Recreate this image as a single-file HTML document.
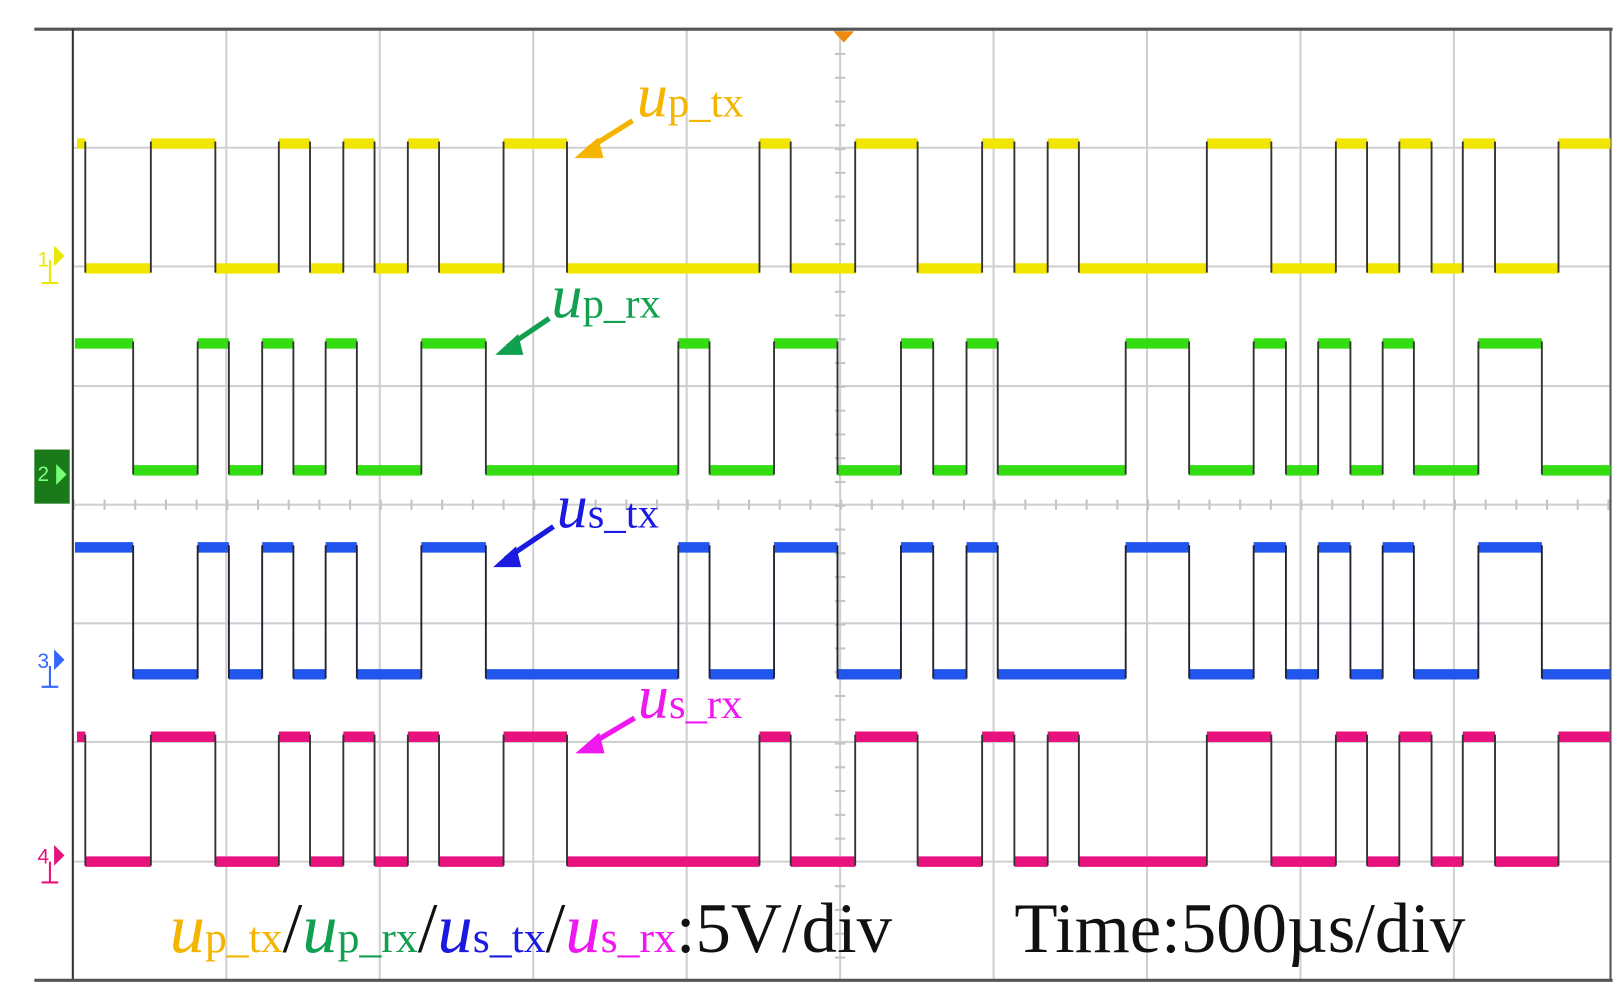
<!DOCTYPE html>
<html><head><meta charset="utf-8"><style>
html,body{margin:0;padding:0;background:#fff;}
svg{display:block;}
</style></head><body>
<svg width="1623" height="999" viewBox="0 0 1560 960" preserveAspectRatio="none" xmlns="http://www.w3.org/2000/svg">
<rect width="1560" height="960" fill="#fff"/>
<g stroke="#d0d0d0" stroke-width="2">
<line x1="217.5" y1="28" x2="217.5" y2="942"/><line x1="365" y1="28" x2="365" y2="942"/><line x1="512.5" y1="28" x2="512.5" y2="942"/><line x1="660" y1="28" x2="660" y2="942"/><line x1="807.5" y1="28" x2="807.5" y2="942"/><line x1="955" y1="28" x2="955" y2="942"/><line x1="1102.5" y1="28" x2="1102.5" y2="942"/><line x1="1250" y1="28" x2="1250" y2="942"/><line x1="1397.5" y1="28" x2="1397.5" y2="942"/>
<line x1="70" y1="142" x2="1548" y2="142"/><line x1="70" y1="256" x2="1548" y2="256"/><line x1="70" y1="371" x2="1548" y2="371"/><line x1="70" y1="485" x2="1548" y2="485"/><line x1="70" y1="599" x2="1548" y2="599"/><line x1="70" y1="713" x2="1548" y2="713"/><line x1="70" y1="828" x2="1548" y2="828"/>
</g>
<line x1="70" y1="485" x2="1548" y2="485" stroke="#c4c4c4" stroke-width="10" stroke-dasharray="2 27.5"/>
<line x1="807.5" y1="28" x2="807.5" y2="942" stroke="#c4c4c4" stroke-width="10" stroke-dasharray="2 20.85"/>
<line x1="33" y1="28" x2="1550" y2="28" stroke="#555" stroke-width="3"/>
<line x1="70" y1="28" x2="70" y2="942" stroke="#333" stroke-width="2"/>
<line x1="33" y1="942" x2="1550" y2="942" stroke="#555" stroke-width="3"/>
<line x1="1548" y1="28" x2="1548" y2="942" stroke="#555" stroke-width="2"/>
<polygon points="801,30 821,30 811,41" fill="#f08a10"/>

<defs>
<path id="wa" d="M74 138H82 M82 258H145 M145 138H207 M207 258H268 M268 138H298 M298 258H330 M330 138H360 M360 258H392 M392 138H422 M422 258H484 M484 138H545 M545 258H730 M730 138H760 M760 258H822 M822 138H882 M882 258H944 M944 138H975 M975 258H1007 M1007 138H1037 M1037 258H1160 M1160 138H1222 M1222 258H1284 M1284 138H1314 M1314 258H1345 M1345 138H1376 M1376 258H1406 M1406 138H1437 M1437 258H1498 M1498 138H1548"/>
<path id="ea" d="M82 136V262M145 136V262M207 136V262M268 136V262M298 136V262M330 136V262M360 136V262M392 136V262M422 136V262M484 136V262M545 136V262M730 136V262M760 136V262M822 136V262M882 136V262M944 136V262M975 136V262M1007 136V262M1037 136V262M1160 136V262M1222 136V262M1284 136V262M1314 136V262M1345 136V262M1376 136V262M1406 136V262M1437 136V262M1498 136V262"/>
<path id="wb" d="M72 330H128 M128 452H190 M190 330H220 M220 452H252 M252 330H282 M282 452H313 M313 330H343 M343 452H405 M405 330H467 M467 452H652 M652 330H682 M682 452H744 M744 330H805 M805 452H866 M866 330H897 M897 452H929 M929 330H959 M959 452H1082 M1082 330H1143 M1143 452H1205 M1205 330H1236 M1236 452H1267 M1267 330H1298 M1298 452H1329 M1329 330H1359 M1359 452H1421 M1421 330H1482 M1482 452H1548"/>
<path id="eb" d="M128 328V456M190 328V456M220 328V456M252 328V456M282 328V456M313 328V456M343 328V456M405 328V456M467 328V456M652 328V456M682 328V456M744 328V456M805 328V456M866 328V456M897 328V456M929 328V456M959 328V456M1082 328V456M1143 328V456M1205 328V456M1236 328V456M1267 328V456M1298 328V456M1329 328V456M1359 328V456M1421 328V456M1482 328V456"/>
</defs>
<g fill="none">
<use href="#wa" stroke="#f0e600" stroke-width="10"/>
<use href="#ea" stroke="#333" stroke-width="1.8"/>
<use href="#wa" stroke="#e8127f" stroke-width="10" transform="translate(0,570)"/>
<use href="#ea" stroke="#333" stroke-width="1.8" transform="translate(0,570)"/>
<use href="#wb" stroke="#33dd11" stroke-width="10"/>
<use href="#eb" stroke="#333" stroke-width="1.8"/>
<use href="#wb" stroke="#2255ee" stroke-width="10" transform="translate(0,196)"/>
<use href="#eb" stroke="#223" stroke-width="1.8" transform="translate(0,196)"/>
</g>

<g font-family="'Liberation Serif',serif">
<text x="612" y="112" font-size="60" fill="#f5b400"><tspan font-style="italic">u</tspan><tspan font-size="41">p_tx</tspan></text>
<text x="530" y="305" font-size="60" fill="#10a050"><tspan font-style="italic">u</tspan><tspan font-size="41">p_rx</tspan></text>
<text x="535" y="507" font-size="60" fill="#1a1ae0"><tspan font-style="italic">u</tspan><tspan font-size="41">s_tx</tspan></text>
<text x="613" y="690" font-size="60" fill="#f018f0"><tspan font-style="italic">u</tspan><tspan font-size="41">s_rx</tspan></text>
<text x="163" y="915" font-size="68"><tspan fill="#f5b400" font-style="italic">u</tspan><tspan fill="#f5b400" font-size="42">p_tx</tspan><tspan fill="#111">/</tspan><tspan fill="#10a050" font-style="italic">u</tspan><tspan fill="#10a050" font-size="42">p_rx</tspan><tspan fill="#111">/</tspan><tspan fill="#1a1ae0" font-style="italic">u</tspan><tspan fill="#1a1ae0" font-size="42">s_tx</tspan><tspan fill="#111">/</tspan><tspan fill="#f018f0" font-style="italic">u</tspan><tspan fill="#f018f0" font-size="42">s_rx</tspan><tspan fill="#111">:5V/div</tspan></text>
<text x="975" y="915" font-size="68" fill="#111">Time:500µs/div</text>
</g>
<g stroke-width="5">
<line x1="608" y1="116" x2="565" y2="143" stroke="#f5b400"/><polygon points="552,152 575,132 580,152" fill="#f5b400"/>
<line x1="528" y1="306" x2="488" y2="333" stroke="#10a050"/><polygon points="476,341 498,321 503,341" fill="#10a050"/>
<line x1="532" y1="506" x2="486" y2="537" stroke="#1a1ae0"/><polygon points="474,545 496,525 501,545" fill="#1a1ae0"/>
<line x1="610" y1="690" x2="566" y2="716" stroke="#f018f0"/><polygon points="553,724 576,704 581,724" fill="#f018f0"/>
</g>
<g font-family="'Liberation Sans',sans-serif" font-size="20">
<text x="36" y="256" fill="#e8e800">1</text><polygon points="52,236 62,246 52,256" fill="#e8e800"/>
<line x1="48" y1="250" x2="48" y2="272" stroke="#e8e800" stroke-width="2"/><line x1="40" y1="272" x2="56" y2="272" stroke="#e8e800" stroke-width="2"/>
<rect x="33" y="432" width="34" height="52" fill="#1a7a1a"/><text x="36" y="462" fill="#7f7">2</text><polygon points="54,446 64,456 54,466" fill="#7f7"/>
<text x="36" y="642" fill="#3366ff">3</text><polygon points="52,624 62,634 52,644" fill="#3366ff"/>
<line x1="48" y1="640" x2="48" y2="660" stroke="#3366ff" stroke-width="2"/><line x1="40" y1="660" x2="56" y2="660" stroke="#3366ff" stroke-width="2"/>
<text x="36" y="830" fill="#e8127f">4</text><polygon points="52,812 62,822 52,832" fill="#e8127f"/>
<line x1="48" y1="828" x2="48" y2="848" stroke="#e8127f" stroke-width="2"/><line x1="40" y1="848" x2="56" y2="848" stroke="#e8127f" stroke-width="2"/>
</g>
</svg>
</body></html>
